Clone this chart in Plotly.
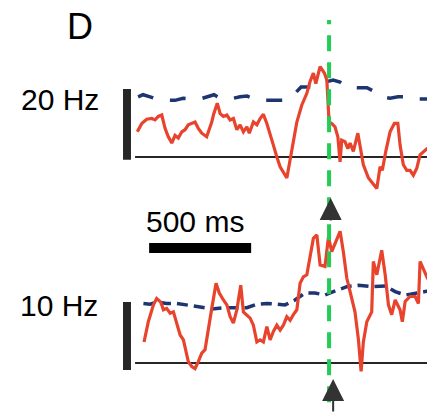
import plotly.graph_objects as go

# ---- data (time in ms relative to event, amplitude normalised to scale bar) ----
t_red_20 = [-940, -918, -894, -869, -853, -837, -820, -804, -788, -771, -755, -739, -722, -706,
            -690, -673, -657, -641, -624, -600, -587, -575, -567, -548, -534, -518, -501, -485,
            -469, -452, -436, -420, -403, -391, -371, -354, -338, -322, -305, -289, -273, -256,
            -240, -207, -183, -158, -134, -109, -93, -77, -65, -44, -23, -11, 0, 13, 29, 43, 54,
            62, 78, 92, 103, 119, 141, 152, 168, 193, 217, 234, 250, 261, 278, 299, 320, 337,
            348, 364, 381, 397, 413, 430, 446, 471, 480, 500]
v_red_20 = [0.36, 0.48, 0.54, 0.55, 0.53, 0.58, 0.60, 0.41, 0.29, 0.20, 0.31, 0.27, 0.36, 0.39,
            0.46, 0.48, 0.50, 0.41, 0.34, 0.29, 0.39, 0.50, 0.60, 0.77, 0.62, 0.58, 0.60, 0.53,
            0.55, 0.39, 0.46, 0.36, 0.43, 0.34, 0.50, 0.46, 0.55, 0.61, 0.48, 0.34, 0.17, 0.00,
            -0.14, -0.30, 0.12, 0.50, 0.74, 0.91, 1.08, 1.20, 1.05, 1.29, 1.20, 1.10, 0.50, 0.48,
            0.43, 0.29, -0.07, 0.24, 0.22, 0.12, 0.20, 0.08, 0.34, 0.17, -0.11, -0.30, -0.38,
            -0.45, -0.14, -0.19, 0.08, 0.36, 0.48, 0.48, 0.17, -0.11, -0.19, -0.19, -0.26, -0.16,
            0.03, 0.10, 0.12, 0.14]

t_blue_20 = [-936, -912, -877, -848, -804, -755, -716, -681, -632, -593, -564, -534, -485, -436,
             -402, -373, -328, -279, -216, -167, -137, -93, -59, -20, 20, 54, 88, 137, 186, 225,
             260, 299, 338, 377, 422, 480, 500]
v_blue_20 = [0.86, 0.89, 0.86, 0.83, 0.81, 0.81, 0.84, 0.83, 0.83, 0.87, 0.89, 0.84, 0.83, 0.86,
             0.87, 0.84, 0.81, 0.81, 0.81, 0.91, 1.00, 1.00, 1.00, 1.07, 1.10, 1.07, 1.00, 0.99,
             0.99, 0.93, 0.86, 0.84, 0.86, 0.86, 0.83, 0.83, 0.83]

t_red_10 = [-907, -886, -861, -845, -825, -812, -796, -779, -763, -747, -730, -714, -701, -690,
            -673, -657, -641, -624, -608, -592, -575, -554, -538, -518, -501, -485, -469, -452,
            -433, -420, -403, -387, -371, -354, -338, -322, -305, -289, -273, -256, -240, -224,
            -207, -191, -175, -158, -142, -126, -109, -93, -77, -60, -44, -20, -3, 13, 38, 54,
            70, 87, 103, 127, 144, 157, 168, 185, 209, 217, 234, 258, 275, 291, 307, 324, 348,
            359, 373, 397, 422, 438, 446, 463, 479, 495]
v_red_10 = [0.30, 0.59, 0.83, 0.92, 0.87, 0.76, 0.78, 0.71, 0.73, 0.57, 0.40, 0.33, 0.16, 0.02,
            -0.05, -0.08, 0.02, 0.14, 0.19, 0.45, 0.78, 1.14, 1.00, 0.90, 0.83, 0.66, 0.57, 0.76,
            1.11, 0.73, 0.69, 0.64, 0.54, 0.30, 0.33, 0.30, 0.52, 0.33, 0.45, 0.54, 0.47, 0.54,
            0.66, 0.61, 0.69, 0.76, 1.14, 1.23, 1.26, 1.54, 1.78, 1.83, 1.40, 1.38, 1.80, 1.59,
            1.78, 1.88, 1.59, 1.21, 1.02, 0.73, 0.33, -0.12, 0.30, 0.59, 0.73, 1.45, 1.26, 1.61,
            1.26, 0.83, 0.69, 0.90, 0.76, 0.59, 0.88, 0.95, 0.95, 0.85, 1.45, 1.33, 1.23, 1.15]

t_blue_10 = [-910, -877, -845, -796, -747, -690, -632, -575, -510, -452, -403, -354, -305, -256,
             -216, -167, -118, -69, -20, 21, 87, 144, 209, 275, 324, 373, 422, 471, 495]
v_blue_10 = [0.85, 0.84, 0.87, 0.85, 0.85, 0.83, 0.80, 0.77, 0.79, 0.79, 0.79, 0.84, 0.85, 0.84,
             0.83, 0.90, 1.00, 1.00, 0.97, 1.02, 1.09, 1.11, 1.09, 1.10, 1.02, 0.97, 1.00, 1.02,
             1.03]

panel_labels = ["20 Hz", "10 Hz"]
time_bar_ms = 500
time_bar_label = "500 ms"
panel_letter = "D"

RED = "#e8432d"
BLUE = "#1d3570"
GREEN = "#22cc55"
DARK = "#262626"
FONT = "Liberation Sans, Arial, Helvetica, sans-serif"

fig = go.Figure()
fig.add_trace(go.Scatter(x=t_blue_20, y=v_blue_20, mode="lines", xaxis="x", yaxis="y",
                         line=dict(color=BLUE, width=3.5, dash="16px,17px"), hoverinfo="skip"))
fig.add_trace(go.Scatter(x=t_red_20, y=v_red_20, mode="lines", xaxis="x", yaxis="y",
                         line=dict(color=RED, width=3.2), hoverinfo="skip"))
fig.add_trace(go.Scatter(x=t_blue_10, y=v_blue_10, mode="lines", xaxis="x", yaxis="y2",
                         line=dict(color=BLUE, width=3.5, dash="11px,6px"), hoverinfo="skip"))
fig.add_trace(go.Scatter(x=t_red_10, y=v_red_10, mode="lines", xaxis="x", yaxis="y2",
                         line=dict(color=RED, width=3.2), hoverinfo="skip"))

shapes = []
# baselines
for yr in ["y", "y2"]:
    shapes.append(dict(type="line", xref="x", yref=yr, x0=-951, x1=480, y0=0, y1=0,
                       line=dict(color=DARK, width=2), layer="below"))
# vertical amplitude scale bars
shapes.append(dict(type="rect", xref="x", yref="y", x0=-1010, x1=-971, y0=-0.04, y1=0.97,
                   fillcolor=DARK, line=dict(width=0)))
shapes.append(dict(type="rect", xref="x", yref="y2", x0=-1010, x1=-971, y0=-0.10, y1=0.87,
                   fillcolor=DARK, line=dict(width=0)))
# time scale bar
shapes.append(dict(type="line", xref="x", yref="paper", x0=-882, x1=-882 + time_bar_ms,
                   y0=0.4024, y1=0.4024, line=dict(color="black", width=10)))
# event line
shapes.append(dict(type="line", xref="x", yref="paper", x0=0, x1=0, y0=0.031, y1=0.952,
                   line=dict(color=GREEN, width=4, dash="16px,11px"), layer="above"))

txt = dict(xref="paper", yref="paper", showarrow=False, xanchor="center", yanchor="middle")
annotations = [
    dict(text=panel_letter, x=80 / 427, y=1 - 26 / 415,
         font=dict(family=FONT, size=36, color="black"), **txt),
    dict(text=panel_labels[0], x=60 / 427, y=1 - 99 / 415,
         font=dict(family=FONT, size=30, color="black"), **txt),
    dict(text=panel_labels[1], x=59 / 427, y=1 - 305 / 415,
         font=dict(family=FONT, size=30, color="black"), **txt),
    dict(text=time_bar_label, x=195 / 427, y=1 - 221 / 415,
         font=dict(family=FONT, size=30, color="black"), **txt),
    dict(text="", x=8, y=1 - 198 / 415, xref="x", yref="paper", showarrow=True, ax=0, ay=24,
         arrowhead=2, arrowsize=2.2, arrowwidth=2, arrowcolor="#333333"),
    dict(text="", x=20, y=1 - 379 / 415, xref="x", yref="paper", showarrow=True, ax=0, ay=34,
         arrowhead=2, arrowsize=2.2, arrowwidth=2, arrowcolor="#333333"),
]

axis_off = dict(visible=False, showgrid=False, zeroline=False, fixedrange=True)
fig.update_layout(
    width=427, height=415, autosize=False,
    margin=dict(l=0, r=0, t=0, b=0, pad=0),
    paper_bgcolor="white", plot_bgcolor="white",
    showlegend=False,
    xaxis=dict(domain=[0, 1], range=[-1613, 480], **axis_off),
    yaxis=dict(domain=[0.5, 1], range=[-0.721, 2.243], **axis_off),
    yaxis2=dict(domain=[0, 0.5], range=[-0.743, 2.221], anchor="x", **axis_off),
    shapes=shapes,
    annotations=annotations,
)

fig.write_html("out.html", config={"displayModeBar": False})
